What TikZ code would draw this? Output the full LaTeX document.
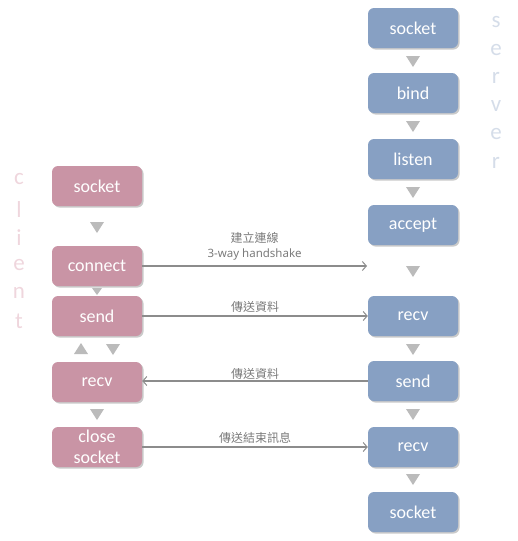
\documentclass[tikz,border=0pt]{standalone}
\usepackage{fontspec}
\setmainfont{Carlito}
\newfontfamily\cjk{Noto Sans CJK TC}
\newfontfamily\lsans{Noto Sans}
\usetikzlibrary{arrows.meta,shadows}
\definecolor{cpink}{HTML}{C994A5}
\definecolor{sblue}{HTML}{87A0C3}
\definecolor{cletter}{HTML}{EFD6DD}
\definecolor{sletter}{HTML}{D5DDE9}
\definecolor{tri}{HTML}{BBBBBB}
\definecolor{arr}{HTML}{8C8C8C}
\definecolor{lab}{HTML}{7A7A7A}
\tikzset{
  box/.style={rounded corners=6pt, minimum width=90pt, minimum height=40pt, inner sep=0pt,
    text=white, font=\fontsize{18}{21}\selectfont, align=center,
    drop shadow={shadow xshift=1.5pt, shadow yshift=-1.5pt, opacity=0.35, fill=black!60}},
  cbox/.style={box, fill=cpink},
  sbox/.style={box, fill=sblue},
  msg/.style={draw=arr, line width=1.3pt, -{Straight Barb[length=4pt,width=9pt,line width=1pt]}},
  msglabel/.style={text=lab, font=\lsans\fontsize{11.5}{15}\selectfont, align=center, inner sep=1pt},
  vletter/.style={font=\fontsize{23}{23}\selectfont, inner sep=0pt},
}
\newcommand{\tridown}[2]{\fill[tri] (#1-7,#2-5) -- (#1+7,#2-5) -- (#1,#2+6) -- cycle;}
\newcommand{\triup}[2]{\fill[tri] (#1-7,#2+5) -- (#1+7,#2+5) -- (#1,#2-6) -- cycle;}
\begin{document}
\begin{tikzpicture}[x=1pt,y=-1pt]
\useasboundingbox (0,0) rectangle (517,541);
% client
\node[cbox] (csocket) at (97,186) {socket};
\node[cbox] (cconnect) at (97,266) {connect};
\node[cbox] (csend) at (97,316) {send};
\node[cbox] (crecv) at (97,382) {recv};
\node[cbox] (cclose) at (97,447) {close\\socket};
% server
\node[sbox] (ssocket) at (413,28) {socket};
\node[sbox] (sbind) at (413,93) {bind};
\node[sbox] (slisten) at (413,159) {listen};
\node[sbox] (saccept) at (413,225) {accept};
\node[sbox] (srecv) at (413,316) {recv};
\node[sbox] (ssend) at (413,381) {send};
\node[sbox] (srecvb) at (413,447) {recv};
\node[sbox] (sclose) at (413,512) {socket};
% triangles
\tridown{413}{61}
\tridown{413}{126}
\tridown{413}{192}
\tridown{413}{271}
\tridown{413}{349}
\tridown{413}{414}
\tridown{413}{479}
\tridown{97}{227}
\fill[tri] (92,288) -- (102,288) -- (97,295) -- cycle;
\triup{81}{349}
\tridown{113}{349}
\tridown{97}{414}
% vertical letters
\foreach \l/\y [count=\i] in {c/179,l/210,i/238,e/265,n/293,t/321}
  \node[vletter, text=cletter] (cl\i) at (19,\y) {\l};
\foreach \l/\y [count=\i] in {s/22,e/50,r/78,v/106,e/134,r/163}
  \node[vletter, text=sletter] (sl\i) at (496,\y) {\l};
% messages
\coordinate (hsend) at (367,266);
\draw[msg] (cconnect.east) -- (hsend) node[midway, above=4pt, msglabel] {{\cjk\fontsize{12}{15}\selectfont 建立連線}\\3-way handshake};
\draw[msg] (csend.east) -- (srecv.west) node[midway, above=2pt, msglabel] {\cjk\fontsize{12}{15}\selectfont 傳送資料};
\draw[msg] (ssend.west) -- (crecv.east |- ssend.west) node[midway, above=0pt, msglabel] {\cjk\fontsize{12}{15}\selectfont 傳送資料};
\draw[msg] (cclose.east) -- (srecvb.west) node[midway, above=2pt, msglabel] {\cjk\fontsize{12}{15}\selectfont 傳送結束訊息};
\end{tikzpicture}
\end{document}
